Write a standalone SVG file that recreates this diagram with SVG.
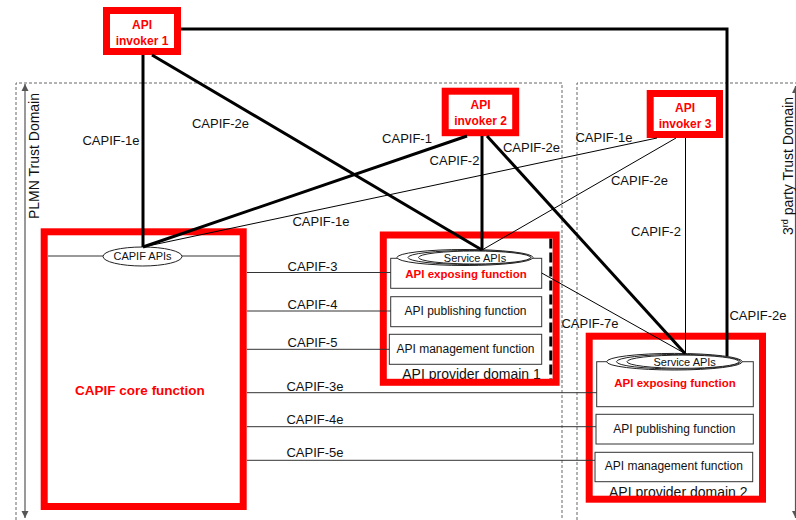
<svg xmlns="http://www.w3.org/2000/svg" width="796" height="520" viewBox="0 0 796 520">
  <defs>
    <style>
      .dom { fill: none; stroke: #666; stroke-width: 1; stroke-dasharray: 3 2; }
      .axis { stroke: #555; stroke-width: 1.2; fill: none; }
      .redbox { fill: none; stroke: #ff0000; stroke-width: 7; }
      .redfill { fill: #ffffff; stroke: #ff0000; stroke-width: 7; }
      .fn { fill: #ffffff; stroke: #333; stroke-width: 1; }
      .api { fill: #ffffff; stroke: #222; stroke-width: 1; }
      .thick { stroke: #000; stroke-width: 3; fill: none; }
      .thin { stroke: #000; stroke-width: 1; fill: none; }
      .ref { stroke: #333; stroke-width: 1; fill: none; }
      .bus { stroke: #777; stroke-width: 1.5; fill: none; }
      .dash { stroke: #000; stroke-width: 3; stroke-dasharray: 10 4; fill: none; }
      text { font-family: "Liberation Sans", Arial, sans-serif; fill: #111; }
      .lbl { font-size: 13px; text-anchor: middle; }
      .dlbl { font-size: 14px; text-anchor: middle; }
      .small { font-size: 11px; text-anchor: middle; }
      .fnt { font-size: 12px; text-anchor: middle; }
      .red { fill: #ff0000; font-weight: bold; text-anchor: middle; }
    </style>
    <marker id="arrow" viewBox="0 0 10 10" refX="10" refY="5" markerWidth="7" markerHeight="8" markerUnits="userSpaceOnUse" orient="auto-start-reverse">
      <path d="M0,0 L10,5 L0,10 z" fill="#555"/>
    </marker>
  </defs>
  <rect width="796" height="520" fill="#ffffff"/>

  <!-- trust domains -->
  <g id="plmn-trust-domain">
    <path class="dom" d="M16,520 V83 H562 V520"/>
    <line class="axis" x1="25" y1="84" x2="25" y2="518" marker-start="url(#arrow)" marker-end="url(#arrow)"/>
    <text class="dlbl" transform="translate(38.5,156) rotate(-90)">PLMN Trust Domain</text>
  </g>
  <g id="third-party-trust-domain">
    <path class="dom" d="M577,520 V83 H796"/>
    <line class="axis" x1="795.5" y1="86" x2="795.5" y2="518" marker-start="url(#arrow)" marker-end="url(#arrow)"/>
    <text class="dlbl" transform="translate(792.5,166) rotate(-90)">3<tspan font-size="9" dy="-5">rd</tspan><tspan dy="5"> party Trust Domain</tspan></text>
  </g>

  <!-- API invokers -->
  <g id="api-invoker-1">
    <rect class="redfill" x="106.5" y="10.5" width="71" height="41"/>
    <text class="red" font-size="12" x="142" y="28.5">API</text>
    <text class="red" font-size="12" x="142" y="45">invoker 1</text>
  </g>
  <g id="api-invoker-2">
    <rect class="redfill" x="445.2" y="91.2" width="70.5" height="41.5"/>
    <text class="red" font-size="12" x="480.5" y="108.5">API</text>
    <text class="red" font-size="12" x="480.5" y="124.5">invoker 2</text>
  </g>
  <g id="api-invoker-3">
    <rect class="redfill" x="650.2" y="93.5" width="69.3" height="41"/>
    <text class="red" font-size="12" x="685" y="111.5">API</text>
    <text class="red" font-size="12" x="685" y="127.5">invoker 3</text>
  </g>

  <!-- CAPIF core function -->
  <g id="capif-core-function">
    <line class="bus" x1="48" y1="256" x2="240" y2="256"/>
    <ellipse class="api" cx="142.5" cy="256.5" rx="39.5" ry="9.5"/>
    <text class="small" x="142.5" y="260">CAPIF APIs</text>
    <text class="red" font-size="13.5" x="140" y="395">CAPIF core function</text>
    <rect class="redbox" x="44.2" y="231.8" width="199" height="274.7"/>
  </g>

  <!-- API provider domain 1 -->
  <g id="api-provider-domain-1">
    <rect class="fn" x="390.7" y="258.3" width="151" height="30"/>
    <ellipse class="api" cx="465" cy="257.5" rx="68" ry="8"/>
    <ellipse class="api" cx="469.5" cy="257.5" rx="61.5" ry="7"/>
    <ellipse class="api" cx="474.5" cy="257.5" rx="56" ry="6.5"/>
    <text class="small" x="475" y="261.5">Service APIs</text>
    <text class="red" font-size="11.5" x="466" y="277.5">API exposing function</text>
    <rect class="fn" x="390.7" y="296.7" width="151" height="30"/>
    <text class="fnt" x="465.5" y="315">API publishing function</text>
    <rect class="fn" x="389.3" y="334.3" width="152.4" height="30"/>
    <text class="fnt" x="465.5" y="353.3">API management function</text>
    <text class="dlbl" x="471.5" y="378.5">API provider domain 1</text>
    <line class="dash" x1="550.8" y1="238.5" x2="550.8" y2="382"/>
    <rect class="redbox" x="383.3" y="235" width="172.8" height="147.3" stroke-width="6.6"/>
  </g>

  <!-- API provider domain 2 -->
  <g id="api-provider-domain-2">
    <rect class="fn" x="596.7" y="361.7" width="156.6" height="45"/>
    <ellipse class="api" cx="674.5" cy="361.7" rx="67.8" ry="8.3"/>
    <ellipse class="api" cx="678.5" cy="361.7" rx="62" ry="7.3"/>
    <ellipse class="api" cx="683" cy="361.7" rx="56" ry="6.6"/>
    <text class="small" x="684.7" y="366">Service APIs</text>
    <text class="red" font-size="11.5" x="675" y="387.3">API exposing function</text>
    <rect class="fn" x="596" y="414.3" width="157.3" height="29.7"/>
    <text class="fnt" x="674.3" y="432.7">API publishing function</text>
    <rect class="fn" x="595" y="452.3" width="157.7" height="29.4"/>
    <text class="fnt" x="673.8" y="470">API management function</text>
    <text class="dlbl" x="678.3" y="496.5">API provider domain 2</text>
    <rect class="redbox" x="589.2" y="336.2" width="173.3" height="163"/>
  </g>

  <!-- reference points -->
  <g id="connectors">
    <path class="thick" d="M143,55 V247"/>
    <path class="thick" d="M152,55 L482,250"/>
    <path class="thick" d="M181,29 H727 V356"/>
    <path class="thick" d="M467,136 L143,247"/>
    <path class="thick" d="M482,136 V250"/>
    <path class="thick" d="M487,136 L685,353.5"/>
    <path class="thin" d="M657,138 L143,247"/>
    <path class="thin" d="M676,138 L482,250"/>
    <path class="thin" d="M685.5,138 V353.5"/>
    <path class="thin" d="M541.7,273 L685,353.5"/>
    <path class="ref" d="M247,272.5 H390.7"/>
    <path class="ref" d="M247,311 H390.7"/>
    <path class="ref" d="M247,349.3 H389.3"/>
    <path class="ref" d="M247,392.7 H596.7"/>
    <path class="ref" d="M247,426.7 H596"/>
    <path class="ref" d="M247,460.3 H595"/>

    <text class="lbl" x="111" y="145">CAPIF-1e</text>
    <text class="lbl" x="220.5" y="128">CAPIF-2e</text>
    <text class="lbl" x="407" y="143">CAPIF-1</text>
    <text class="lbl" x="454.5" y="165">CAPIF-2</text>
    <text class="lbl" x="531.5" y="151.5">CAPIF-2e</text>
    <text class="lbl" x="604" y="142">CAPIF-1e</text>
    <text class="lbl" x="639.5" y="185">CAPIF-2e</text>
    <text class="lbl" x="656" y="235.5">CAPIF-2</text>
    <text class="lbl" x="321" y="225.5">CAPIF-1e</text>
    <text class="lbl" x="590" y="328">CAPIF-7e</text>
    <text class="lbl" x="758" y="320">CAPIF-2e</text>
    <text class="lbl" x="312.5" y="271">CAPIF-3</text>
    <text class="lbl" x="312.5" y="309">CAPIF-4</text>
    <text class="lbl" x="312.5" y="347">CAPIF-5</text>
    <text class="lbl" x="315" y="391">CAPIF-3e</text>
    <text class="lbl" x="315" y="424">CAPIF-4e</text>
    <text class="lbl" x="315" y="457">CAPIF-5e</text>
  </g>
</svg>
